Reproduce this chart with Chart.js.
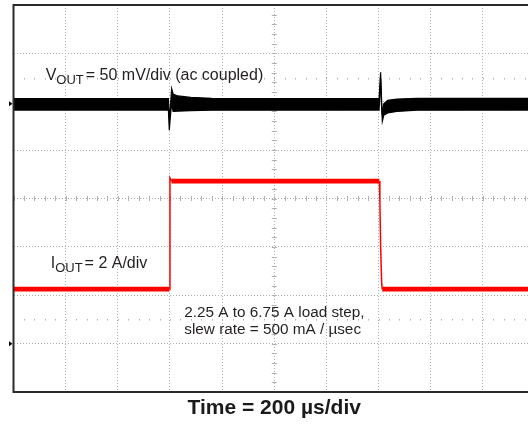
<!DOCTYPE html>
<html>
<head>
<meta charset="utf-8">
<script src="https://cdn.jsdelivr.net/npm/chart.js@4.4.0/dist/chart.umd.min.js"></script>
<style>
  html, body { margin: 0; padding: 0; background: #fff; overflow: hidden; }
  #wrap { width: 535px; height: 425px; }
</style>
</head>
<body>
<div id="wrap"><canvas id="scope" width="535" height="425"></canvas></div>
<script>
// Graticule: 10 x 8 divisions
const TIME_MAX = 2000;           // 200 µs/div
const DIV_MIN = -4;
const DIV_MAX = 4;

// VOUT trace (ac coupled, 50 mV/div), noise band as top / bottom edge in mV
const vTime   = [0, 594, 597.5, 602, 606.5, 612, 630, 680, 760, 1402, 1408, 1411, 1414.5, 1420, 1435, 1470, 1550, 2000];
const vTop    = [5.3, 5.3, -16, -2, 15.6, 10, 8, 6.5, 5.5, 5.3, 32.5, 8, -12, 0, 3.5, 4.8, 5.5, 5.5];
const vBottom = [-6.6, -6.6, -27.3, -12, 0, -8, -7.8, -7.2, -6.8, -6.6, 26, 0, -18.2, -12, -9.5, -8, -6.8, -6.6];

// IOUT trace (2 A/div), in A
const iTime = [0, 598, 600, 606, 1403, 1405, 1408, 1412, 1414, 2000];
const iOut  = [2.25, 2.25, 6.85, 6.72, 6.72, 6.0, 4.0, 2.5, 2.25, 2.25];

const FONT = "'Liberation Sans', Arial, sans-serif";
const GRID_COLOR = "#b0b0b0";
const FRAME_COLOR = "#2b2b2b";
const TEXT_COLOR = "#231f20";

// draws a label like V<sub>OUT</sub> = ...
const drawSubLabel = (ctx, x, y, main, sub, rest) => {
  ctx.font = `16px ${FONT}`;
  ctx.fillText(main, x, y);
  x += ctx.measureText(main).width;
  ctx.font = `13px ${FONT}`;
  ctx.fillText(sub, x, y + 4);
  x += ctx.measureText(sub).width + 2;
  ctx.font = `16px ${FONT}`;
  ctx.fillText(rest, x, y);
};

// scope graticule extras, frame, ground markers and labels
const scopeDecor = {
  id: "scopeDecor",
  beforeDatasetsDraw(chart) {
    const {ctx, scales} = chart;
    const x = scales.x;
    const g = scales.yDiv;
    const cx = x.getPixelForValue(TIME_MAX / 2);
    const cy = g.getPixelForValue(0);

    ctx.save();
    ctx.strokeStyle = GRID_COLOR;
    ctx.lineWidth = 1;
    ctx.beginPath();
    // minor ticks on the centre lines
    for (let i = 0; i <= 40; i++) {
      const y = Math.round(g.getPixelForValue(DIV_MIN + i * 0.2)) + 0.5;
      ctx.moveTo(cx - 2.5, y);
      ctx.lineTo(cx + 2.5, y);
    }
    for (let i = 0; i <= 50; i++) {
      const px = Math.round(x.getPixelForValue(i * 40)) + 0.5;
      ctx.moveTo(px, cy - 2.5);
      ctx.lineTo(px, cy + 2.5);
    }
    ctx.stroke();

    // 0% / 100% dotted rows
    ctx.fillStyle = GRID_COLOR;
    [-2.5, 2.5].forEach((d) => {
      const y = Math.round(g.getPixelForValue(d));
      for (let i = 1; i < 50; i++) {
        const px = Math.round(x.getPixelForValue(i * 40));
        ctx.fillRect(px, y, 1, 1.5);
      }
    });
    ctx.restore();
  },
  afterDraw(chart) {
    const {ctx, chartArea: a, scales} = chart;
    ctx.save();

    // frame (right edge runs off the screen)
    ctx.strokeStyle = FRAME_COLOR;
    ctx.lineWidth = 2;
    ctx.beginPath();
    ctx.moveTo(a.right + 2, a.top);
    ctx.lineTo(a.left, a.top);
    ctx.lineTo(a.left, a.bottom);
    ctx.lineTo(a.right + 2, a.bottom);
    ctx.stroke();

    // channel ground markers
    ctx.fillStyle = "#000";
    [scales.yV.getPixelForValue(0), scales.yI.getPixelForValue(0)].forEach((y) => {
      ctx.beginPath();
      ctx.moveTo(a.left - 4.5, y - 2.5);
      ctx.lineTo(a.left - 1, y);
      ctx.lineTo(a.left - 4.5, y + 2.5);
      ctx.closePath();
      ctx.fill();
    });

    // labels
    ctx.fillStyle = TEXT_COLOR;
    ctx.textBaseline = "alphabetic";
    drawSubLabel(ctx, 45.7, 80, "V", "OUT", "= 50 mV/div (ac coupled)");
    drawSubLabel(ctx, 50.7, 268.3, "I", "OUT", "= 2 A/div");
    ctx.font = `15.3px ${FONT}`;
    ctx.fillText("2.25 A to 6.75 A load step,", 184.3, 317.3);
    ctx.fillText("slew rate = 500 mA / µsec", 184.3, 334);
    ctx.restore();
  }
};

const setup = () => {
  const vTopData = vTime.map((t, i) => ({x: t, y: vTop[i]}));
  const vBottomData = vTime.map((t, i) => ({x: t, y: vBottom[i]}));
  const iData = iTime.map((t, i) => ({x: t, y: iOut[i]}));

  new Chart(document.getElementById("scope"), {
    type: "line",
    data: {
      datasets: [
        {
          label: "VOUT top",
          data: vTopData,
          yAxisID: "yV",
          borderColor: "#000",
          borderWidth: 1.2,
          pointRadius: 0,
          fill: false
        },
        {
          label: "VOUT bottom",
          data: vBottomData,
          yAxisID: "yV",
          borderColor: "#000",
          borderWidth: 1.2,
          backgroundColor: "#000",
          pointRadius: 0,
          fill: "-1"
        },
        {
          label: "IOUT",
          data: iData,
          yAxisID: "yI",
          borderColor: "#ff0000",
          borderWidth: 4.8,
          pointRadius: 0,
          fill: false,
          segment: {
            // thin trace on the fast edges
            borderWidth: (ctx) => Math.abs(ctx.p1.y - ctx.p0.y) > 2 * Math.abs(ctx.p1.x - ctx.p0.x) ? 1.5 : 4.8
          }
        }
      ]
    },
    options: {
      responsive: false,
      animation: false,
      parsing: false,
      layout: { padding: { left: 13.5, top: 5, right: 0, bottom: 0 } },
      plugins: {
        legend: { display: false },
        tooltip: { enabled: false }
      },
      scales: {
        x: {
          type: "linear",
          min: 0,
          max: TIME_MAX,
          ticks: { stepSize: 200, display: false },
          grid: { color: GRID_COLOR, drawTicks: false },
          border: { display: false, dash: [1, 2] },
          title: {
            display: true,
            text: "Time = 200 µs/div",
            color: "#1a1a1a",
            font: { family: FONT, size: 21, weight: "bold" },
            padding: { top: 4, bottom: 3.8 }
          }
        },
        yDiv: {
          type: "linear",
          position: "left",
          min: DIV_MIN,
          max: DIV_MAX,
          ticks: { stepSize: 1, display: false },
          grid: { color: GRID_COLOR, drawTicks: false },
          border: { display: false, dash: [1, 2] }
        },
        yV: { type: "linear", display: false, min: -298, max: 102 },
        yI: { type: "linear", display: false, min: -2, max: 14 }
      }
    },
    plugins: [scopeDecor]
  });
};

window.addEventListener("load", setup);
</script>
</body>
</html>
